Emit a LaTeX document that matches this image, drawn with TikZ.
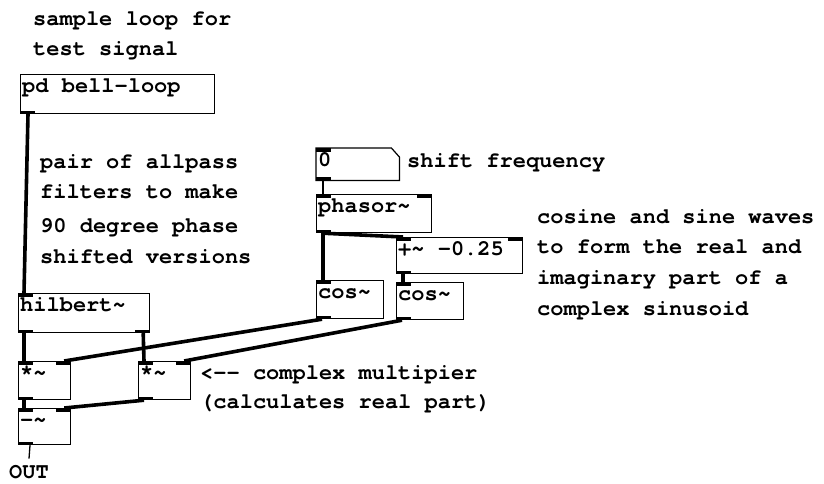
\documentclass[tikz,border=0pt]{standalone}
\usepackage{fontspec}
\setmainfont{texgyrecursor}[Extension=.otf, UprightFont=*-regular, BoldFont=*-bold, Ligatures=NoCommon]
\usetikzlibrary{calc}
\newcommand\pdtxt[3]{\node[txt] (#1) at ($(#2.north west)+(2,18.5)$) {#3};}
\newcommand\inL[1]{\fill (#1.north west) rectangle ++(15,3.5);}
\newcommand\inR[1]{\fill (#1.north east) rectangle ++(-15,3.5);}
\newcommand\outL[1]{\fill (#1.south west) rectangle ++(15,-3.5);}
\newcommand\outR[1]{\fill (#1.south east) rectangle ++(-15,-3.5);}
\begin{document}
\begin{tikzpicture}[x=1pt,y=-1pt,
  obj/.style={draw, line width=1.2pt, anchor=north west, inner sep=0pt},
  txt/.style={anchor=base west, inner sep=0pt, font=\fontsize{22}{26}\selectfont\bfseries},
  sig/.style={line width=3.6pt},
  ctl/.style={line width=1.3pt}]
\useasboundingbox[fill=white] (0,0) rectangle (824,483);

% comments
\node[txt] (c1a) at (33,25) {sample loop for};
\node[txt] (c1b) at (33,55) {test signal};
\node[txt] (c2a) at (40,168) {pair of allpass};
\node[txt] (c2b) at (40,198) {filters to make};
\node[txt] (c2c) at (40,232) {90 degree phase};
\node[txt] (c2d) at (40,263) {shifted versions};
\node[txt] (c3) at (407,167) {shift frequency};
\node[txt] (c4a) at (537,223) {cosine and sine waves};
\node[txt] (c4b) at (537,253) {to form the real and};
\node[txt] (c4c) at (537,284) {imaginary part of a};
\node[txt] (c4d) at (537,315) {complex sinusoid};
\node[txt] (c5a) at (200,379) {<{-}{-} complex multipier};
\node[txt] (c5b) at (200,408) {(calculates real part)};
\node[txt, anchor=base] (out) at (29,478) {OUT};

% boxes
\node[obj, minimum width=194, minimum height=39] (bell) at (20,74) {};
\node[obj, minimum width=131, minimum height=39] (hil) at (18,293) {};
\node[obj, minimum width=52, minimum height=38] (mulL) at (18,361) {};
\node[obj, minimum width=52, minimum height=38] (mulR) at (138,361) {};
\node[obj, minimum width=52, minimum height=36] (sub) at (18,408) {};
\node[anchor=north west, inner sep=0pt, minimum width=83, minimum height=32] (num) at (316,148) {};
\draw[line width=1.2pt] (num.north west) -- ([xshift=-8]num.north east) -- ([yshift=-9]num.north east) -- (num.south east) -- (num.south west) -- cycle;
\node[obj, minimum width=115, minimum height=38] (pha) at (316,194) {};
\node[obj, minimum width=126, minimum height=36] (add) at (396,237) {};
\node[obj, minimum width=67, minimum height=38] (cosL) at (316,280) {};
\node[obj, minimum width=67, minimum height=37] (cosR) at (396,282) {};

% box texts
\pdtxt{tbell}{bell}{pd bell-loop}
\pdtxt{thil}{hil}{hilbert\textasciitilde}
\pdtxt{tmulL}{mulL}{*\textasciitilde}
\pdtxt{tmulR}{mulR}{*\textasciitilde}
\pdtxt{tsub}{sub}{-\textasciitilde}
\pdtxt{tnum}{num}{0}
\pdtxt{tpha}{pha}{phasor\textasciitilde}
\pdtxt{tadd}{add}{+\textasciitilde{} -0.25}
\pdtxt{tcosL}{cosL}{cos\textasciitilde}
\pdtxt{tcosR}{cosR}{cos\textasciitilde}

% ports
\outL{bell}
\inL{hil} \outL{hil} \outR{hil}
\inL{mulL} \inR{mulL} \outL{mulL}
\inL{mulR} \inR{mulR} \outL{mulR}
\inL{sub} \inR{sub} \outL{sub}
\inL{num} \outL{num}
\inL{pha} \inR{pha} \outL{pha}
\inL{add} \inR{add} \outL{add}
\inL{cosL} \outL{cosL}
\inL{cosR} \outL{cosR}

% connections
\draw[sig] ([xshift=8]bell.south west) -- ([xshift=6]hil.north west);
\draw[sig] ([xshift=6]hil.south west) -- ([xshift=6]mulL.north west);
\draw[sig] ([xshift=-7]hil.south east) -- ([xshift=6]mulR.north west);
\draw[sig] ([xshift=6]cosL.south west) -- ([xshift=-7]mulL.north east);
\draw[sig] ([xshift=6]cosR.south west) -- ([xshift=-7]mulR.north east);
\draw[sig] ([xshift=6]mulL.south west) -- ([xshift=6]sub.north west);
\draw[sig] ([xshift=6]mulR.south west) -- ([xshift=-7]sub.north east);
\draw[ctl] ([xshift=7]num.south west) -- ([xshift=7]pha.north west);
\draw[sig] ([xshift=7]pha.south west) -- ([xshift=7]cosL.north west);
\draw[sig] ([xshift=7]pha.south west) -- ([xshift=7]add.north west);
\draw[sig] ([xshift=7]add.south west) -- ([xshift=7]cosR.north west);
\draw[ctl] ([xshift=12]sub.south west) -- ([yshift=6]out.north);
\end{tikzpicture}
\end{document}
